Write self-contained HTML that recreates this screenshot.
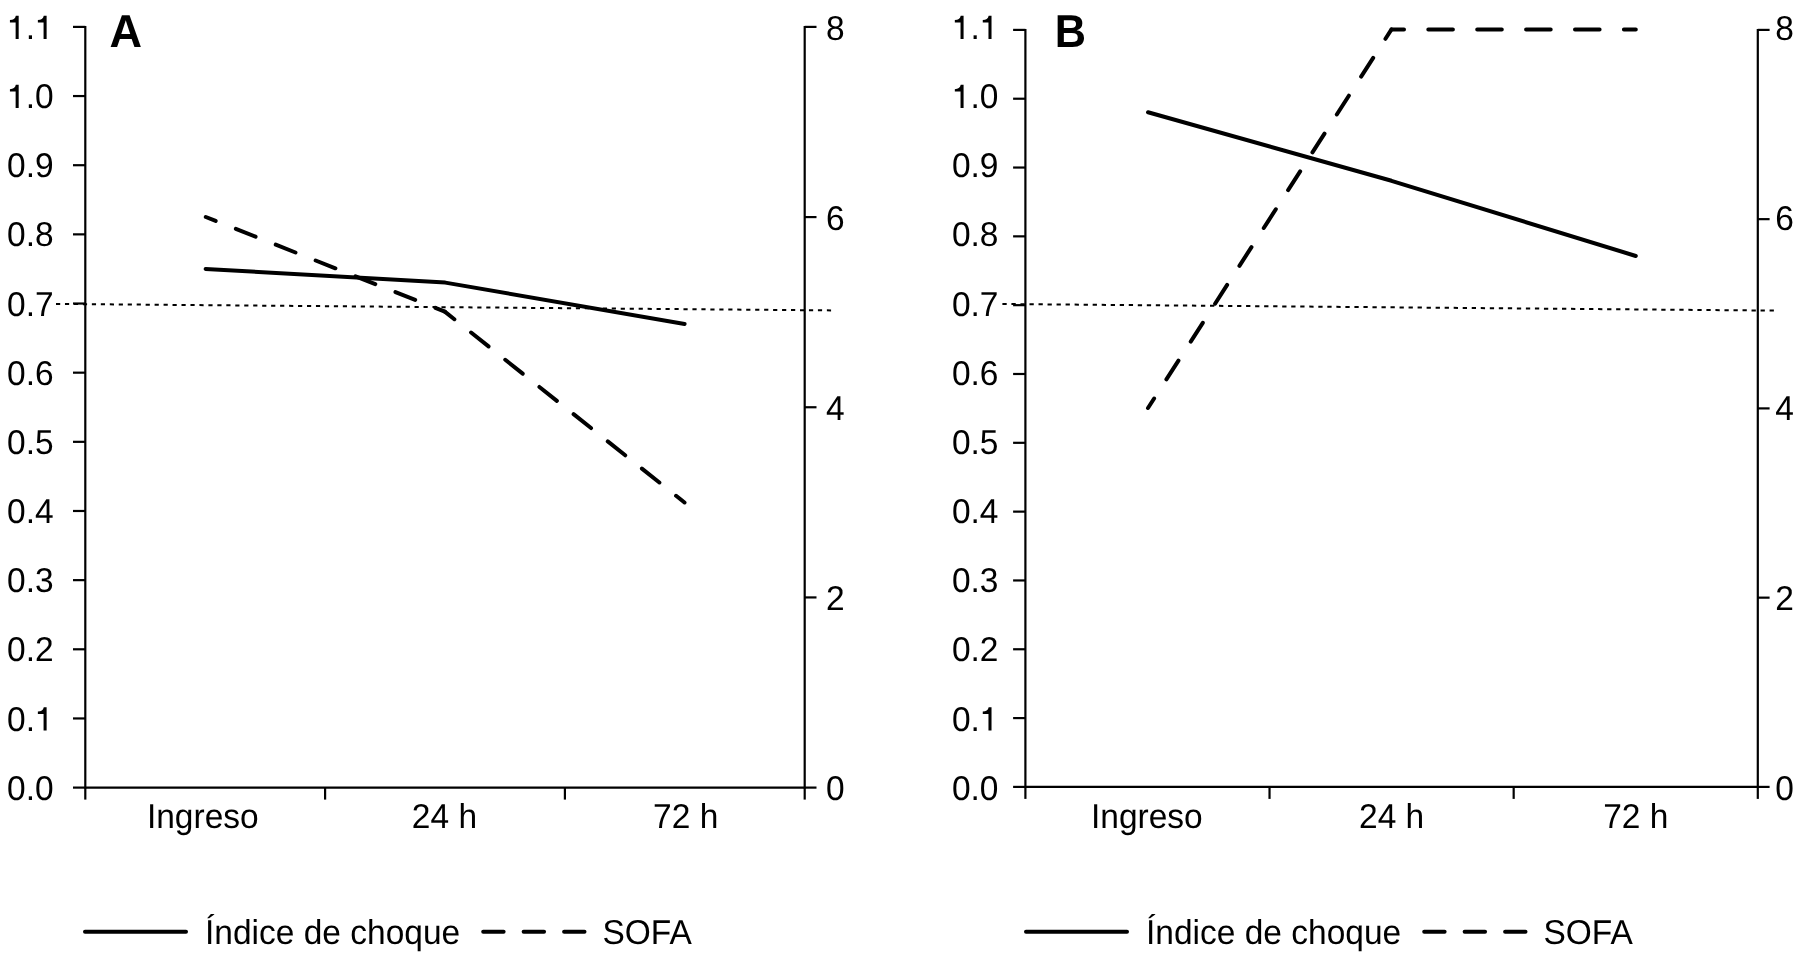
<!DOCTYPE html>
<html><head><meta charset="utf-8"><style>
html,body{margin:0;padding:0;background:#fff;}
body{width:1800px;height:959px;overflow:hidden;}
svg{display:block;will-change:transform;}
svg text{font-family:"Liberation Sans",sans-serif;fill:#000;stroke:none;text-rendering:geometricPrecision;}
</style></head><body>
<svg width="1800" height="959" viewBox="0 0 1800 959" stroke="#000" fill="none">
<line x1="85.30" y1="25.90" x2="85.30" y2="788.60" stroke-width="2.2" stroke-linecap="butt" />
<line x1="804.70" y1="25.90" x2="804.70" y2="788.60" stroke-width="2.2" stroke-linecap="butt" />
<line x1="85.30" y1="787.60" x2="804.70" y2="787.60" stroke-width="2.2" stroke-linecap="butt" />
<line x1="73.00" y1="26.90" x2="85.30" y2="26.90" stroke-width="2.2" stroke-linecap="butt" />
<line x1="73.00" y1="96.05" x2="85.30" y2="96.05" stroke-width="2.2" stroke-linecap="butt" />
<line x1="73.00" y1="165.21" x2="85.30" y2="165.21" stroke-width="2.2" stroke-linecap="butt" />
<line x1="73.00" y1="234.36" x2="85.30" y2="234.36" stroke-width="2.2" stroke-linecap="butt" />
<line x1="73.00" y1="303.52" x2="85.30" y2="303.52" stroke-width="2.2" stroke-linecap="butt" />
<line x1="73.00" y1="372.67" x2="85.30" y2="372.67" stroke-width="2.2" stroke-linecap="butt" />
<line x1="73.00" y1="441.83" x2="85.30" y2="441.83" stroke-width="2.2" stroke-linecap="butt" />
<line x1="73.00" y1="510.98" x2="85.30" y2="510.98" stroke-width="2.2" stroke-linecap="butt" />
<line x1="73.00" y1="580.14" x2="85.30" y2="580.14" stroke-width="2.2" stroke-linecap="butt" />
<line x1="73.00" y1="649.29" x2="85.30" y2="649.29" stroke-width="2.2" stroke-linecap="butt" />
<line x1="73.00" y1="718.45" x2="85.30" y2="718.45" stroke-width="2.2" stroke-linecap="butt" />
<line x1="73.00" y1="787.60" x2="85.30" y2="787.60" stroke-width="2.2" stroke-linecap="butt" />
<line x1="804.70" y1="26.90" x2="816.50" y2="26.90" stroke-width="2.2" stroke-linecap="butt" />
<line x1="804.70" y1="217.08" x2="816.50" y2="217.08" stroke-width="2.2" stroke-linecap="butt" />
<line x1="804.70" y1="407.25" x2="816.50" y2="407.25" stroke-width="2.2" stroke-linecap="butt" />
<line x1="804.70" y1="597.43" x2="816.50" y2="597.43" stroke-width="2.2" stroke-linecap="butt" />
<line x1="804.70" y1="787.60" x2="816.50" y2="787.60" stroke-width="2.2" stroke-linecap="butt" />
<line x1="85.30" y1="787.60" x2="85.30" y2="799.60" stroke-width="2.2" stroke-linecap="butt" />
<line x1="325.10" y1="787.60" x2="325.10" y2="799.60" stroke-width="2.2" stroke-linecap="butt" />
<line x1="564.90" y1="787.60" x2="564.90" y2="799.60" stroke-width="2.2" stroke-linecap="butt" />
<line x1="804.70" y1="787.60" x2="804.70" y2="799.60" stroke-width="2.2" stroke-linecap="butt" />
<path d="M18.68,38.90 H15.63 V22.40 H9.93 V20.00 C13.23,19.90 15.23,18.60 15.83,15.70 H18.68 Z" fill="#000" stroke="none"/>
<text transform="translate(25.66,38.90) scale(1.0,1.03)" text-anchor="start" font-size="33.5">.</text>
<path d="M46.62,38.90 H43.57 V22.40 H37.87 V20.00 C41.17,19.90 43.17,18.60 43.77,15.70 H46.62 Z" fill="#000" stroke="none"/>
<path d="M18.68,108.06 H15.63 V91.56 H9.93 V89.16 C13.23,89.06 15.23,87.76 15.83,84.86 H18.68 Z" fill="#000" stroke="none"/>
<text transform="translate(25.66,108.06) scale(1.0,1.03)" text-anchor="start" font-size="33.5">.0</text>
<text transform="translate(53.60,177.22) scale(1.0,1.03)" text-anchor="end" font-size="33.5">0.9</text>
<text transform="translate(53.60,246.38) scale(1.0,1.03)" text-anchor="end" font-size="33.5">0.8</text>
<text transform="translate(53.60,315.54) scale(1.0,1.03)" text-anchor="end" font-size="33.5">0.7</text>
<text transform="translate(53.60,384.70) scale(1.0,1.03)" text-anchor="end" font-size="33.5">0.6</text>
<text transform="translate(53.60,453.86) scale(1.0,1.03)" text-anchor="end" font-size="33.5">0.5</text>
<text transform="translate(53.60,523.02) scale(1.0,1.03)" text-anchor="end" font-size="33.5">0.4</text>
<text transform="translate(53.60,592.18) scale(1.0,1.03)" text-anchor="end" font-size="33.5">0.3</text>
<text transform="translate(53.60,661.34) scale(1.0,1.03)" text-anchor="end" font-size="33.5">0.2</text>
<text transform="translate(7.03,730.50) scale(1.0,1.03)" text-anchor="start" font-size="33.5">0.</text>
<path d="M46.62,730.50 H43.57 V714.00 H37.87 V711.60 C41.17,711.50 43.17,710.20 43.77,707.30 H46.62 Z" fill="#000" stroke="none"/>
<text transform="translate(53.60,799.66) scale(1.0,1.03)" text-anchor="end" font-size="33.5">0.0</text>
<text transform="translate(825.90,39.90) scale(1.0,1.03)" text-anchor="start" font-size="33.5">8</text>
<text transform="translate(825.90,229.90) scale(1.0,1.03)" text-anchor="start" font-size="33.5">6</text>
<text transform="translate(825.90,419.90) scale(1.0,1.03)" text-anchor="start" font-size="33.5">4</text>
<text transform="translate(825.90,609.90) scale(1.0,1.03)" text-anchor="start" font-size="33.5">2</text>
<text transform="translate(825.90,799.90) scale(1.0,1.03)" text-anchor="start" font-size="33.5">0</text>
<text transform="translate(202.80,827.50) scale(1.0,1.03)" text-anchor="middle" font-size="33.5">Ingreso</text>
<text transform="translate(444.40,827.50) scale(1.0,1.03)" text-anchor="middle" font-size="33.5">24 h</text>
<text transform="translate(685.70,827.50) scale(1.0,1.03)" text-anchor="middle" font-size="33.5">72 h</text>
<text transform="translate(109.40,46.90) scale(1.015,1.04)" text-anchor="start" font-size="44.4" font-weight="bold">A</text>
<line x1="1025.40" y1="28.90" x2="1025.40" y2="787.90" stroke-width="2.2" stroke-linecap="butt" />
<line x1="1757.80" y1="28.90" x2="1757.80" y2="787.90" stroke-width="2.2" stroke-linecap="butt" />
<line x1="1025.40" y1="786.90" x2="1757.80" y2="786.90" stroke-width="2.2" stroke-linecap="butt" />
<line x1="1013.10" y1="29.90" x2="1025.40" y2="29.90" stroke-width="2.2" stroke-linecap="butt" />
<line x1="1013.10" y1="98.72" x2="1025.40" y2="98.72" stroke-width="2.2" stroke-linecap="butt" />
<line x1="1013.10" y1="167.54" x2="1025.40" y2="167.54" stroke-width="2.2" stroke-linecap="butt" />
<line x1="1013.10" y1="236.35" x2="1025.40" y2="236.35" stroke-width="2.2" stroke-linecap="butt" />
<line x1="1013.10" y1="305.17" x2="1025.40" y2="305.17" stroke-width="2.2" stroke-linecap="butt" />
<line x1="1013.10" y1="373.99" x2="1025.40" y2="373.99" stroke-width="2.2" stroke-linecap="butt" />
<line x1="1013.10" y1="442.81" x2="1025.40" y2="442.81" stroke-width="2.2" stroke-linecap="butt" />
<line x1="1013.10" y1="511.63" x2="1025.40" y2="511.63" stroke-width="2.2" stroke-linecap="butt" />
<line x1="1013.10" y1="580.45" x2="1025.40" y2="580.45" stroke-width="2.2" stroke-linecap="butt" />
<line x1="1013.10" y1="649.26" x2="1025.40" y2="649.26" stroke-width="2.2" stroke-linecap="butt" />
<line x1="1013.10" y1="718.08" x2="1025.40" y2="718.08" stroke-width="2.2" stroke-linecap="butt" />
<line x1="1013.10" y1="786.90" x2="1025.40" y2="786.90" stroke-width="2.2" stroke-linecap="butt" />
<line x1="1757.80" y1="29.90" x2="1769.60" y2="29.90" stroke-width="2.2" stroke-linecap="butt" />
<line x1="1757.80" y1="219.15" x2="1769.60" y2="219.15" stroke-width="2.2" stroke-linecap="butt" />
<line x1="1757.80" y1="408.40" x2="1769.60" y2="408.40" stroke-width="2.2" stroke-linecap="butt" />
<line x1="1757.80" y1="597.65" x2="1769.60" y2="597.65" stroke-width="2.2" stroke-linecap="butt" />
<line x1="1757.80" y1="786.90" x2="1769.60" y2="786.90" stroke-width="2.2" stroke-linecap="butt" />
<line x1="1025.40" y1="786.90" x2="1025.40" y2="798.90" stroke-width="2.2" stroke-linecap="butt" />
<line x1="1269.53" y1="786.90" x2="1269.53" y2="798.90" stroke-width="2.2" stroke-linecap="butt" />
<line x1="1513.67" y1="786.90" x2="1513.67" y2="798.90" stroke-width="2.2" stroke-linecap="butt" />
<line x1="1757.80" y1="786.90" x2="1757.80" y2="798.90" stroke-width="2.2" stroke-linecap="butt" />
<path d="M963.58,38.90 H960.53 V22.40 H954.83 V20.00 C958.13,19.90 960.13,18.60 960.73,15.70 H963.58 Z" fill="#000" stroke="none"/>
<text transform="translate(970.56,38.90) scale(1.0,1.03)" text-anchor="start" font-size="33.5">.</text>
<path d="M991.52,38.90 H988.47 V22.40 H982.77 V20.00 C986.07,19.90 988.07,18.60 988.67,15.70 H991.52 Z" fill="#000" stroke="none"/>
<path d="M963.58,108.06 H960.53 V91.56 H954.83 V89.16 C958.13,89.06 960.13,87.76 960.73,84.86 H963.58 Z" fill="#000" stroke="none"/>
<text transform="translate(970.56,108.06) scale(1.0,1.03)" text-anchor="start" font-size="33.5">.0</text>
<text transform="translate(998.50,177.22) scale(1.0,1.03)" text-anchor="end" font-size="33.5">0.9</text>
<text transform="translate(998.50,246.38) scale(1.0,1.03)" text-anchor="end" font-size="33.5">0.8</text>
<text transform="translate(998.50,315.54) scale(1.0,1.03)" text-anchor="end" font-size="33.5">0.7</text>
<text transform="translate(998.50,384.70) scale(1.0,1.03)" text-anchor="end" font-size="33.5">0.6</text>
<text transform="translate(998.50,453.86) scale(1.0,1.03)" text-anchor="end" font-size="33.5">0.5</text>
<text transform="translate(998.50,523.02) scale(1.0,1.03)" text-anchor="end" font-size="33.5">0.4</text>
<text transform="translate(998.50,592.18) scale(1.0,1.03)" text-anchor="end" font-size="33.5">0.3</text>
<text transform="translate(998.50,661.34) scale(1.0,1.03)" text-anchor="end" font-size="33.5">0.2</text>
<text transform="translate(951.93,730.50) scale(1.0,1.03)" text-anchor="start" font-size="33.5">0.</text>
<path d="M991.52,730.50 H988.47 V714.00 H982.77 V711.60 C986.07,711.50 988.07,710.20 988.67,707.30 H991.52 Z" fill="#000" stroke="none"/>
<text transform="translate(998.50,799.66) scale(1.0,1.03)" text-anchor="end" font-size="33.5">0.0</text>
<text transform="translate(1775.30,39.90) scale(1.0,1.03)" text-anchor="start" font-size="33.5">8</text>
<text transform="translate(1775.30,229.90) scale(1.0,1.03)" text-anchor="start" font-size="33.5">6</text>
<text transform="translate(1775.30,419.90) scale(1.0,1.03)" text-anchor="start" font-size="33.5">4</text>
<text transform="translate(1775.30,609.90) scale(1.0,1.03)" text-anchor="start" font-size="33.5">2</text>
<text transform="translate(1775.30,799.90) scale(1.0,1.03)" text-anchor="start" font-size="33.5">0</text>
<text transform="translate(1146.87,827.50) scale(1.0,1.03)" text-anchor="middle" font-size="33.5">Ingreso</text>
<text transform="translate(1391.60,827.50) scale(1.0,1.03)" text-anchor="middle" font-size="33.5">24 h</text>
<text transform="translate(1635.73,827.50) scale(1.0,1.03)" text-anchor="middle" font-size="33.5">72 h</text>
<text transform="translate(1054.80,46.90) scale(0.975,1.04)" text-anchor="start" font-size="44.4" font-weight="bold">B</text>
<line x1="56.00" y1="303.90" x2="831.10" y2="310.40" stroke-width="2" stroke-linecap="butt" stroke-dasharray="4.2 4.764"/>
<line x1="1002.40" y1="304.00" x2="1774.00" y2="310.60" stroke-width="2" stroke-linecap="butt" stroke-dasharray="4.3 4.726"/>
<polyline points="205.6,269 445.3,282.6 684.6,324" fill="none" stroke-width="4" stroke-linecap="round" stroke-linejoin="round"/>
<polyline points="1148,112.2 1391.5,180.8 1635.8,256" fill="none" stroke-width="4" stroke-linecap="round" stroke-linejoin="round"/>
<line x1="205.8" y1="217" x2="444.8" y2="311.6" fill="none" stroke-width="4" stroke-linecap="round" stroke-linejoin="round" stroke-dasharray="21.2 21.72" stroke-dashoffset="10.6"/>
<line x1="444.8" y1="311.6" x2="684.5" y2="502.5" fill="none" stroke-width="4" stroke-linecap="round" stroke-linejoin="round" stroke-dasharray="22.3 21.38" stroke-dashoffset="10.08"/>
<line x1="1148" y1="408" x2="1391.5" y2="29.4" fill="none" stroke-width="4" stroke-linecap="round" stroke-linejoin="round" stroke-dasharray="22.3 22.7" stroke-dashoffset="11"/>
<line x1="1391.5" y1="29.4" x2="1635.8" y2="29.4" fill="none" stroke-width="4" stroke-linecap="round" stroke-linejoin="round" stroke-dasharray="24.6 24.3" stroke-dashoffset="12.1"/>
<line x1="85.00" y1="931.80" x2="186.00" y2="931.80" stroke-width="4" stroke-linecap="round" />
<text transform="translate(205.00,943.80) scale(1.0,1.03)" text-anchor="start" font-size="33.5">&#205;ndice de choque</text>
<line x1="483.20" y1="931.80" x2="503.60" y2="931.80" stroke-width="4" stroke-linecap="round" />
<line x1="523.65" y1="931.80" x2="544.05" y2="931.80" stroke-width="4" stroke-linecap="round" />
<line x1="564.10" y1="931.80" x2="584.50" y2="931.80" stroke-width="4" stroke-linecap="round" />
<text transform="translate(602.40,943.80) scale(1.0,1.03)" text-anchor="start" font-size="33.5">SOFA</text>
<line x1="1026.00" y1="931.80" x2="1127.00" y2="931.80" stroke-width="4" stroke-linecap="round" />
<text transform="translate(1146.00,943.80) scale(1.0,1.03)" text-anchor="start" font-size="33.5">&#205;ndice de choque</text>
<line x1="1424.20" y1="931.80" x2="1444.60" y2="931.80" stroke-width="4" stroke-linecap="round" />
<line x1="1464.65" y1="931.80" x2="1485.05" y2="931.80" stroke-width="4" stroke-linecap="round" />
<line x1="1505.10" y1="931.80" x2="1525.50" y2="931.80" stroke-width="4" stroke-linecap="round" />
<text transform="translate(1543.40,943.80) scale(1.0,1.03)" text-anchor="start" font-size="33.5">SOFA</text>
</svg>
</body></html>
